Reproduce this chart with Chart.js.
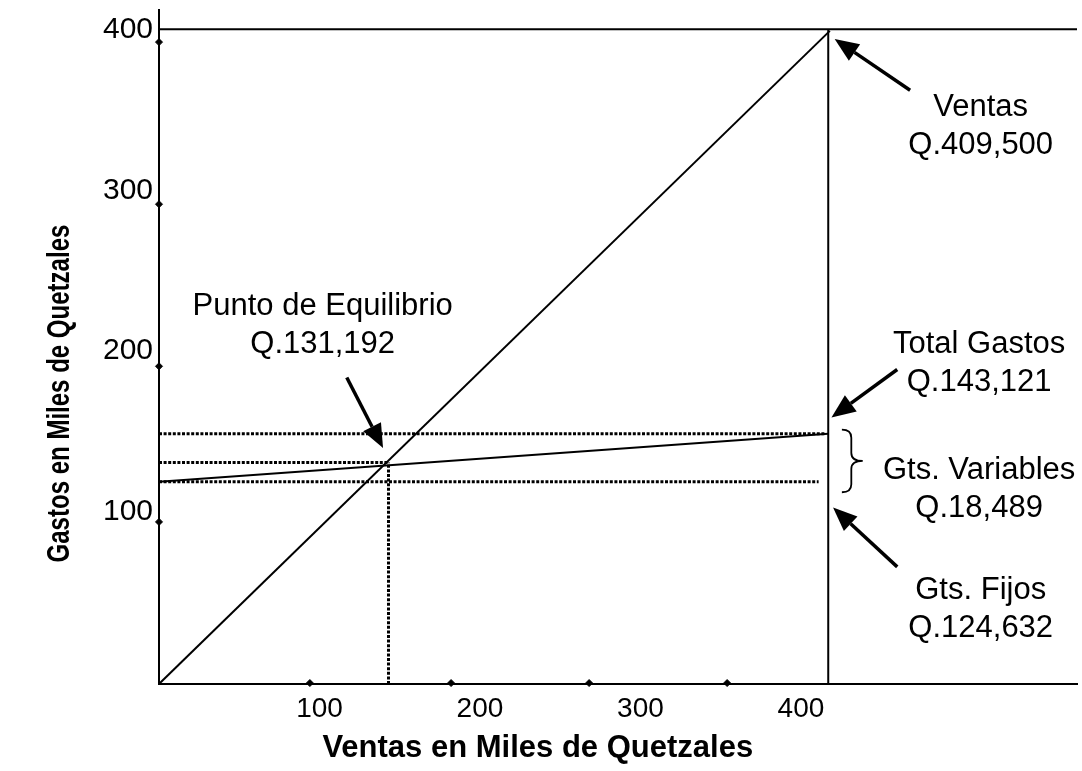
<!DOCTYPE html>
<html>
<head>
<meta charset="utf-8">
<script src="https://cdn.jsdelivr.net/npm/chart.js@4.4.1/dist/chart.umd.min.js"></script>
<style>
  body { margin: 0; background: #fff; }
  #wrap { width: 1082px; height: 771px; }
</style>
</head>
<body>
<div id="wrap"><canvas id="chart" width="1082" height="771"></canvas></div>
<script>
// Ejes
const xTicks = [100, 200, 300, 400];
const yTicks = [100, 200, 300, 400];
const xMax = 572;
const yMax = 420;

// Rectas de ventas y de gastos
const ventasX = [0, 418];
const ventasY = [0, 407];
const gastosX = [0, 417];
const gastosY = [126, 156];

// Niveles del punto de equilibrio
const tope = 408;          // línea superior
const limiteVentas = 417;  // vertical de ventas
const totalGastos = 156;
const gastosFijos = 126;
const equilibrioX = 143;
const equilibrioY = 138;

// marcas sueltas sobre los ejes
const marcasY = [400, 299, 198, 101];
const marcasX = [94, 182, 268, 354];

// Anotaciones (texto y flechas)
const etiquetas = [
  { lines: ['Ventas', 'Q.409,500'], x: 512, y: 354 },
  { lines: ['Punto de Equilibrio', 'Q.131,192'], x: 102, y: 230 },
  { lines: ['Total Gastos', 'Q.143,121'], x: 511, y: 206 },
  { lines: ['Gts. Variables', 'Q.18,489'], x: 511, y: 128 },
  { lines: ['Gts. Fijos', 'Q.124,632'], x: 512, y: 53 }
];
const flechas = [
  { from: [468, 370], to: [421, 402] },
  { from: [117, 191], to: [139.6, 147] },
  { from: [460, 196], to: [419, 166] },
  { from: [460, 73], to: [420, 110] }
];
const llave = { x0: 425.5, x1: 438.5, top: 158.5, bottom: 119.5 };

const pts = (xs, ys) => xs.map((x, i) => ({ x: x, y: ys[i] }));

const solid = (data) => ({
  data: data, showLine: true, borderColor: '#000', borderWidth: 2,
  pointRadius: 0, fill: false
});
const dotted = (data) => ({
  data: data, showLine: true, borderColor: '#000', borderWidth: 3,
  borderDash: [3, 1.6], pointRadius: 0, fill: false
});

const datasets = [
  solid(pts(ventasX, ventasY)),
  solid(pts(gastosX, gastosY)),
  solid([{ x: 0, y: tope }, { x: xMax, y: tope }]),
  solid([{ x: limiteVentas, y: 0 }, { x: limiteVentas, y: tope }]),
  dotted([{ x: 0, y: totalGastos }, { x: 415, y: totalGastos }]),
  dotted([{ x: 0, y: equilibrioY }, { x: equilibrioX, y: equilibrioY }]),
  dotted([{ x: 0, y: gastosFijos }, { x: 411, y: gastosFijos }]),
  dotted([{ x: equilibrioX, y: 0 }, { x: equilibrioX, y: equilibrioY }]),
  {
    data: marcasY.map(v => ({ x: 0, y: v })).concat(marcasX.map(v => ({ x: v, y: 0.6 }))),
    showLine: false, pointStyle: 'rectRot', pointRadius: 3.5,
    backgroundColor: '#000', borderColor: '#000', clip: false
  }
];

// Dibuja textos, flechas, llave y títulos de los ejes
const anotaciones = {
  id: 'anotaciones',
  afterDatasetsDraw(chart) {
    const ctx = chart.ctx;
    const xs = chart.scales.x, ys = chart.scales.y;
    const px = v => xs.getPixelForValue(v);
    const py = v => ys.getPixelForValue(v);
    ctx.save();
    ctx.fillStyle = '#000';
    ctx.strokeStyle = '#000';

    ctx.font = '31px "Liberation Sans", Arial, sans-serif';
    ctx.textAlign = 'center';
    ctx.textBaseline = 'alphabetic';
    etiquetas.forEach(e => {
      e.lines.forEach((t, i) => ctx.fillText(t, px(e.x), py(e.y) + i * 38));
    });

    flechas.forEach(f => {
      const x0 = px(f.from[0]), y0 = py(f.from[1]);
      const x1 = px(f.to[0]), y1 = py(f.to[1]);
      const a = Math.atan2(y1 - y0, x1 - x0);
      const len = 24, half = 10;
      const bx = x1 - len * Math.cos(a), by = y1 - len * Math.sin(a);
      ctx.lineWidth = 3.5;
      ctx.beginPath();
      ctx.moveTo(x0, y0);
      ctx.lineTo(bx, by);
      ctx.stroke();
      ctx.beginPath();
      ctx.moveTo(x1, y1);
      ctx.lineTo(bx + half * Math.sin(a), by - half * Math.cos(a));
      ctx.lineTo(bx - half * Math.sin(a), by + half * Math.cos(a));
      ctx.closePath();
      ctx.fill();
    });

    // llave de gastos variables
    const lx0 = px(llave.x0), lx1 = px(llave.x1);
    const lt = py(llave.top), lb = py(llave.bottom), lm = (lt + lb) / 2;
    const xm = (lx0 + lx1) / 2 - 1, r = 8;
    ctx.lineWidth = 1.8;
    ctx.beginPath();
    ctx.moveTo(lx0, lt);
    ctx.quadraticCurveTo(xm, lt, xm, lt + r);
    ctx.lineTo(xm, lm - r);
    ctx.quadraticCurveTo(xm, lm, lx1, lm);
    ctx.quadraticCurveTo(xm, lm, xm, lm + r);
    ctx.lineTo(xm, lb - r);
    ctx.quadraticCurveTo(xm, lb, lx0, lb);
    ctx.stroke();

    // títulos de los ejes
    ctx.font = 'bold 31px "Liberation Sans", Arial, sans-serif';
    ctx.textAlign = 'center';
    ctx.textBaseline = 'alphabetic';
    ctx.fillText('Ventas en Miles de Quetzales', px(236), chart.height - 14);
    ctx.translate(69, py(181));
    ctx.rotate(-Math.PI / 2);
    ctx.scale(0.775, 1);
    ctx.fillText('Gastos en Miles de Quetzales', 0, 0);
    ctx.restore();
  }
};

const ctx = document.getElementById('chart').getContext('2d');
const chart = new Chart(ctx, {
  type: 'scatter',
  data: { datasets: datasets },
  plugins: [anotaciones],
  options: {
    responsive: false,
    animation: false,
    layout: { padding: { top: 10, right: 0, left: 0, bottom: 0 } },
    plugins: { legend: { display: false }, tooltip: { enabled: false } },
    scales: {
      x: {
        type: 'linear', min: 0, max: xMax,
        afterBuildTicks: s => { s.ticks = xTicks.map(v => ({ value: v })); },
        afterFit: s => { s.height = 87; s.paddingLeft = 0; s.paddingRight = 0; },
        grid: { display: false, drawTicks: false },
        border: { display: true, color: '#000', width: 2 },
        ticks: {
          color: '#000', padding: 8,
          font: { family: '"Liberation Sans", Arial, sans-serif', size: 28 }
        }
      },
      y: {
        type: 'linear', min: 0, max: yMax,
        afterBuildTicks: s => { s.ticks = yTicks.map(v => ({ value: v })); },
        afterFit: s => { s.width = 159; s.paddingTop = 0; s.paddingBottom = 0; },
        grid: { display: false, drawTicks: false },
        border: { display: true, color: '#000', width: 2 },
        ticks: {
          color: '#000', padding: 6, labelOffset: -12,
          font: { family: '"Liberation Sans", Arial, sans-serif', size: 30 }
        }
      }
    }
  }
});
</script>
</body>
</html>
